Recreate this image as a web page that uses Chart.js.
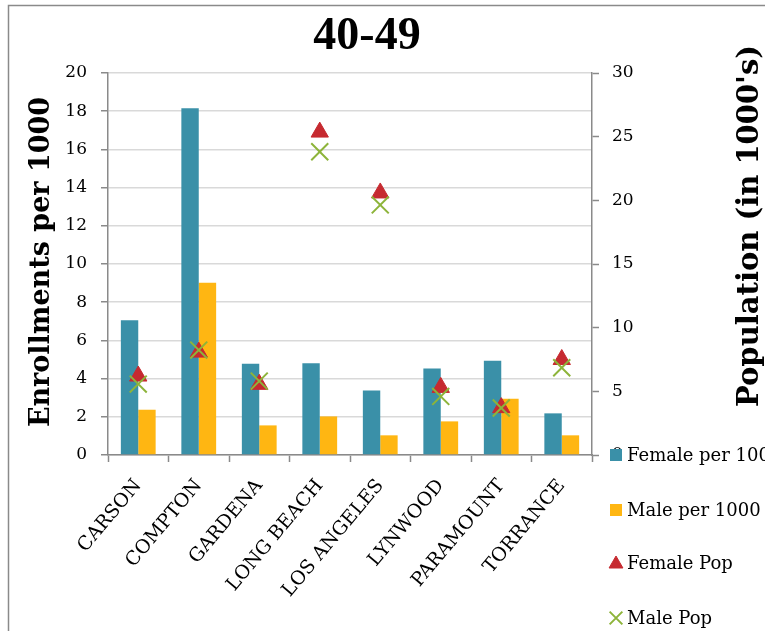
<!DOCTYPE html>
<html>
<head>
<meta charset="utf-8">
<script src="https://cdn.jsdelivr.net/npm/chart.js@4/dist/chart.umd.min.js"></script>
<style>
  body { margin: 0; background: #fff; }
  #wrap { width: 765px; height: 631px; position: relative; overflow: hidden; }
</style>
</head>
<body>
<div id="wrap"><canvas id="enroll"></canvas></div>
<script>
var cities = ["CARSON", "COMPTON", "GARDENA", "LONG BEACH", "LOS ANGELES", "LYNWOOD", "PARAMOUNT", "TORRANCE"];
var femalePer1000 = [7.05, 18.15, 4.78, 4.8, 3.38, 4.53, 4.94, 2.18];
var malePer1000 = [2.37, 9.02, 1.55, 2.02, 1.03, 1.76, 2.95, 1.03];
var femalePop = [6.2, 8.08, 5.55, 25.36, 20.58, 5.31, 3.72, 7.5];
var malePop = [5.57, 8.24, 5.8, 23.82, 19.64, 4.6, 3.69, 6.85];

var chartTitle = "40-49";
var leftTitle = "Enrollments per 1000";
var rightTitle = "Population (in 1000's)";

var TEAL = "#3a90a8";
var GOLD = "#ffb612";
var RED = "#c62a30";
var GREEN = "#8db43a";
var AXIS = "#8a8a8a";
var GRID = "#d9d9d9";

Chart.defaults.font.family = "'DejaVu Serif', serif";
Chart.defaults.color = "#000";

// title, axis titles, legend and outer frame
var decorations = {
	id: "decorations",
	afterDraw: function(chart) {
		var ctx = chart.ctx;
		ctx.save();

		ctx.strokeStyle = AXIS;
		ctx.lineWidth = 1.5;
		ctx.strokeRect(8.5, 5.5, 900, 900);

		ctx.fillStyle = "#000";
		ctx.textAlign = "center";
		ctx.textBaseline = "middle";
		ctx.font = "bold 46px 'Liberation Serif', serif";
		ctx.fillText(chartTitle, 367, 37);

		ctx.font = "bold 27px 'DejaVu Serif', serif";
		ctx.save();
		ctx.translate(42, 262);
		ctx.rotate(-Math.PI / 2);
		ctx.fillText(leftTitle, 0, 0);
		ctx.restore();
		ctx.font = "bold 29px 'DejaVu Serif', serif";
		ctx.save();
		ctx.translate(750, 226);
		ctx.rotate(-Math.PI / 2);
		ctx.fillText(rightTitle, 0, 0);
		ctx.restore();

		// legend
		var rows = [455, 510, 563, 618];
		ctx.font = "18px 'DejaVu Serif', serif";
		ctx.textAlign = "left";
		chart.data.datasets.forEach(function(ds, i) {
			var y = rows[i];
			if (ds.type === "bar") {
				ctx.fillStyle = ds.backgroundColor;
				ctx.fillRect(610, y - 6, 12, 12);
			} else {
				ctx.fillStyle = ds.pointBackgroundColor;
				ctx.strokeStyle = ds.pointBorderColor;
				ctx.lineWidth = ds.pointBorderWidth;
				Chart.helpers.drawPoint(ctx, {
					pointStyle: ds.pointStyle,
					radius: ds.pointStyle === "triangle" ? 8 : 9,
					rotation: 0,
					borderWidth: ds.pointBorderWidth
				}, 616, y + (ds.pointStyle === "triangle" ? 1 : 0));
			}
			ctx.fillStyle = "#000";
			ctx.fillText(ds.label, 627, y + 1);
		});
		ctx.restore();
	}
};

var config = {
	type: "bar",
	data: {
		labels: cities,
		datasets: [{
			type: "bar",
			label: "Female per 1000",
			data: femalePer1000,
			backgroundColor: TEAL,
			borderWidth: 0,
			yAxisID: "y",
			order: 2
		}, {
			type: "bar",
			label: "Male per 1000",
			data: malePer1000,
			backgroundColor: GOLD,
			borderWidth: 0,
			yAxisID: "y",
			order: 2
		}, {
			type: "line",
			label: "Female Pop",
			data: femalePop,
			showLine: false,
			pointStyle: "triangle",
			pointRadius: 10,
			pointBackgroundColor: RED,
			pointBorderColor: RED,
			pointBorderWidth: 1,
			yAxisID: "y1",
			order: 1
		}, {
			type: "line",
			label: "Male Pop",
			data: malePop,
			showLine: false,
			pointStyle: "crossRot",
			pointRadius: 12,
			pointBackgroundColor: GREEN,
			pointBorderColor: GREEN,
			pointBorderWidth: 2,
			yAxisID: "y1",
			order: 0
		}]
	},
	options: {
		responsive: true,
		maintainAspectRatio: false,
		animation: false,
		events: [],
		layout: {
			padding: { left: 0, top: 73, right: 113, bottom: 0 }
		},
		datasets: {
			bar: { categoryPercentage: 0.575, barPercentage: 1 }
		},
		plugins: {
			legend: { display: false },
			title: { display: false },
			tooltip: { enabled: false }
		},
		scales: {
			x: {
				offset: true,
				grid: {
					offset: true,
					drawOnChartArea: false,
					tickLength: 7,
					tickColor: AXIS,
					tickWidth: 1.5
				},
				border: { color: AXIS, width: 1.5 },
				ticks: {
					font: { size: 19 },
					maxRotation: 50,
					minRotation: 50,
					padding: 13,
					autoSkip: false
				},
				afterFit: function(s) { s.height = 176; }
			},
			y: {
				position: "left",
				min: 0,
				max: 20,
				grid: {
					color: GRID,
					lineWidth: 1.5,
					tickLength: 7,
					tickColor: AXIS,
					tickWidth: 1.5
				},
				border: { color: AXIS, width: 1.5 },
				ticks: {
					stepSize: 2,
					font: { size: 17 },
					padding: 14
				},
				afterFit: function(s) { s.width = 108; }
			},
			y1: {
				position: "right",
				min: 0,
				max: 30,
				grid: {
					drawOnChartArea: false,
					tickLength: 7,
					tickColor: AXIS,
					tickWidth: 1.5
				},
				border: { color: AXIS, width: 1.5 },
				ticks: {
					stepSize: 5,
					font: { size: 17 },
					padding: 13
				},
				afterFit: function(s) { s.width = 60; }
			}
		}
	},
	plugins: [decorations]
};

var ctx = document.getElementById("enroll").getContext("2d");
window.enrollChart = new Chart(ctx, config);
</script>
</body>
</html>
